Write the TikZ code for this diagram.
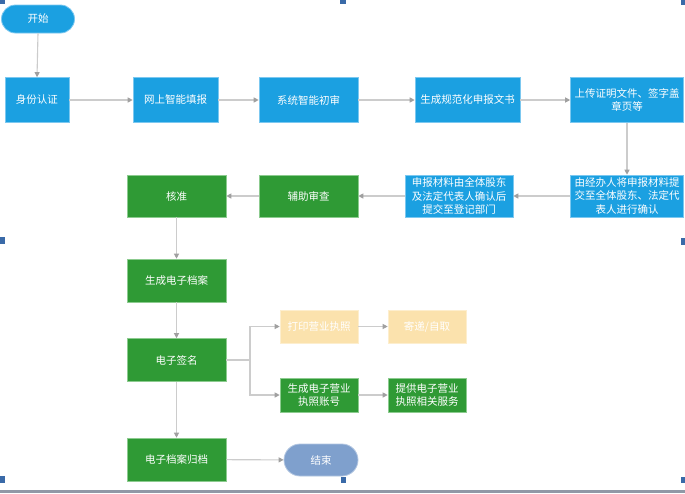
\documentclass[tikz,border=0pt]{standalone}
\usepackage{fontspec}
\setmainfont{Noto Sans CJK SC}
\usetikzlibrary{arrows.meta}
\definecolor{bblue}{HTML}{1BA0E1}
\definecolor{bblueE}{HTML}{7CC8F0}
\definecolor{ggreen}{HTML}{2F9A35}
\definecolor{ggreenE}{HTML}{8CCB8F}
\definecolor{oorange}{HTML}{FBE2AD}
\definecolor{eend}{HTML}{7FA0CD}
\definecolor{lnk}{HTML}{CCCCCC}
\definecolor{tipc}{HTML}{A0A0A0}
\definecolor{hnd}{HTML}{3A6AA8}
\definecolor{bline}{HTML}{9098A6}
\tikzset{
  box/.style={rectangle, inner sep=0pt, text=white, align=center,
    font=\fontsize{10.5}{13.8}\selectfont, line width=0.6pt},
  bluebox/.style={box, fill=bblue, draw=bblueE},
  greenbox/.style={box, fill=ggreen, draw=ggreenE},
  orangebox/.style={box, fill=oorange, draw=oorange!60!white, text=white},
  pill/.style={rectangle, rounded corners=14pt, inner sep=0pt, text=white,
    font=\fontsize{10.5}{13}\selectfont, line width=0.8pt},
  conn/.style={draw=lnk, line width=1.1pt},
  arr/.style={conn, -{Triangle[length=5pt,width=5pt,color=tipc]}},
  handle/.style={fill=hnd, draw=none}
}
\begin{document}
\begin{tikzpicture}[x=1pt,y=-1pt]
\useasboundingbox (0,0) rectangle (685,493);
\fill[white] (0,0) rectangle (685,493);
% row 1
\node[pill, fill=bblue, draw=bblueE, minimum width=73pt, minimum height=28pt] (start) at (38,19) {开始};
\node[bluebox, minimum width=64pt, minimum height=45pt] (sf) at (37,100) {身份认证};
\node[bluebox, minimum width=85pt, minimum height=45pt] (ws) at (175.5,100) {网上智能填报};
\node[bluebox, minimum width=99pt, minimum height=45pt] (xt) at (308.5,100) {系统智能初审};
\node[bluebox, minimum width=105pt, minimum height=45pt] (sc1) at (467.5,100) {生成规范化申报文书};
\node[bluebox, minimum width=113pt, minimum height=45pt] (up) at (627,100) {上传证明文件、签字盖\\章页等};
% row 2
\node[bluebox, minimum width=113pt, minimum height=42pt] (jb) at (627,196) {由经办人将申报材料提\\交至全体股东、法定代\\表人进行确认};
\node[bluebox, minimum width=108pt, minimum height=42pt] (sb) at (459,196) {申报材料由全体股东\\及法定代表人确认后\\提交至登记部门};
\node[greenbox, minimum width=99pt, minimum height=42pt] (fz) at (308.5,196) {辅助审查};
\node[greenbox, minimum width=99pt, minimum height=42pt] (hz) at (176.5,196) {核准};
% column
\node[greenbox, minimum width=99pt, minimum height=43pt] (da) at (176.5,280.5) {生成电子档案};
\node[greenbox, minimum width=99pt, minimum height=43pt] (qm) at (176.5,360) {电子签名};
\node[greenbox, minimum width=99pt, minimum height=43pt] (gd) at (176.5,459.5) {电子档案归档};
\node[pill, fill=eend, draw=eend!60!white, minimum width=74pt, minimum height=32pt, rounded corners=16pt] (end) at (321,460) {结束};
% branch
\node[orangebox, minimum width=78pt, minimum height=33pt] (dy) at (319,326.5) {打印营业执照};
\node[orangebox, minimum width=78pt, minimum height=33pt] (jd) at (427,326.5) {寄递/自取};
\node[greenbox, minimum width=78pt, minimum height=34pt] (zh) at (319,395) {生成电子营业\\执照账号};
\node[greenbox, minimum width=78pt, minimum height=34pt] (tg) at (427,395) {提供电子营业\\执照相关服务};
% connectors
\draw[arr] (start.south) -- (sf.north);
\draw[arr] (sf) -- (ws);
\draw[arr] (ws) -- (xt);
\draw[arr] (xt) -- (sc1);
\draw[arr] (sc1) -- (up);
\draw[arr] (up) -- (jb);
\draw[arr] (jb) -- (sb);
\draw[arr] (sb) -- (fz);
\draw[arr] (fz) -- (hz);
\draw[arr] (hz) -- (da);
\draw[arr] (da) -- (qm);
\draw[arr] (qm) -- (gd);
\draw[arr] (gd) -- (end);
\coordinate (br) at (250,360);
\draw[conn] (qm.east) -- (br);
\draw[arr] (br) |- (dy.west);
\draw[arr] (br) |- (zh.west);
\draw[arr] (dy) -- (jd);
\draw[arr] (zh) -- (tg);
% selection handles and bottom line
\fill[handle] (0,0) rectangle (5,4);
\fill[handle] (340,0) rectangle (346,4);
\fill[handle] (681,0) rectangle (685,5);
\fill[handle] (0,237) rectangle (5,244);
\fill[handle] (681,238) rectangle (685,245);
\fill[handle] (0,476) rectangle (5,483);
\fill[handle] (341,477) rectangle (346,483);
\fill[handle] (681,477) rectangle (685,483);
\fill[bline] (0,490) rectangle (685,493);
\end{tikzpicture}
\end{document}
